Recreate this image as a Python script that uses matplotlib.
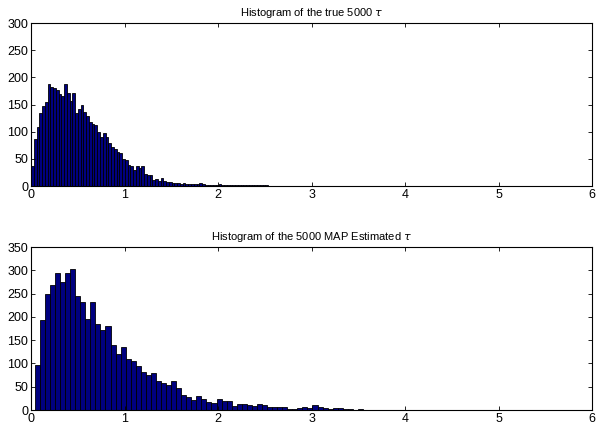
import numpy as np
import matplotlib
matplotlib.use('Agg')
import matplotlib.pyplot as plt

plt.rcParams['font.family'] = ['Liberation Sans', 'DejaVu Sans']

# counts per bin (100 bins each, like matlab hist)
true_range = (0.0, 2.95)
true_counts = [37, 86, 109, 135, 147, 155, 188, 182, 180, 176,
               170, 166, 187, 171, 157, 171, 135, 142, 150, 136,
               128, 118, 114, 112, 100, 91, 97, 90, 80, 72,
               68, 63, 60, 50, 47, 39, 36, 30, 37, 34,
               37, 23, 20, 20, 11, 13, 10, 14, 9, 7,
               8, 6, 5, 5, 4, 5, 4, 3, 4, 4,
               3, 6, 3, 2, 1, 2, 1, 1, 3, 1,
               1, 2, 1, 1, 2, 1, 1, 2, 1, 1,
               1, 1, 1, 1, 1, 1, 0, 0, 0, 0,
               0, 0, 0, 0, 0, 0, 0, 0, 0, 0]

map_range = (0.04, 5.44)
map_counts = [96, 194, 250, 269, 294, 275, 295, 303, 244, 233,
              195, 233, 184, 171, 180, 140, 120, 135, 109, 106,
              94, 81, 75, 79, 62, 57, 54, 62, 47, 32,
              29, 21, 31, 23, 18, 16, 23, 20, 20, 9,
              14, 13, 11, 9, 13, 11, 7, 6, 7, 7,
              2, 2, 5, 7, 4, 11, 6, 4, 2, 4,
              4, 2, 2, 1, 2, 1, 1, 0, 1, 1,
              0, 1, 1, 0, 1, 0, 1, 1, 0, 1,
              0, 0, 1, 1, 0, 0, 1, 0, 0, 1,
              0, 0, 1, 0, 0, 0, 1, 0, 0, 1]

titles = [r'Histogram of the true 5000 $\tau$',
          r'Histogram of the 5000 MAP Estimated $\tau$']
ylims = [300, 350]

fig = plt.figure(figsize=(5.99, 4.28), dpi=100)
ax1 = fig.add_axes([0.0518, 0.5654, 0.9366, 0.3808])
ax2 = fig.add_axes([0.0518, 0.042, 0.9366, 0.3808])

data = [(true_range, true_counts), (map_range, map_counts)]
for ax, (rng, counts), title, ytop in zip([ax1, ax2], data, titles, ylims):
    edges = np.linspace(rng[0], rng[1], len(counts) + 1)
    ax.bar(edges[:-1], counts, width=np.diff(edges), align='edge',
           color='#00007f', edgecolor='black', linewidth=0.6)
    ax.set_xlim(0, 6)
    ax.set_ylim(0, ytop)
    ax.set_xticks(range(0, 7))
    ax.set_yticks(range(0, ytop + 1, 50))
    ax.tick_params(direction='in', top=True, right=True, labelsize=9,
                   length=3, width=0.6, pad=2)
    for s in ax.spines.values():
        s.set_linewidth(0.8)
    ax.set_title(title, fontsize=8, pad=5)

fig.savefig('out.png', dpi=100)
